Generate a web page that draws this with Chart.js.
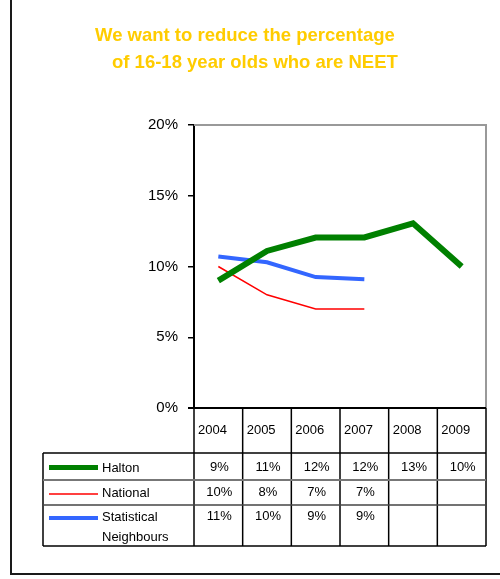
<!DOCTYPE html>
<html>
<head>
<meta charset="utf-8">
<style>
html,body{margin:0;padding:0;background:#fff;}
#wrap{position:relative;width:500px;height:579px;}
canvas{display:block;}
</style>
<script src="https://cdn.jsdelivr.net/npm/chart.js@4"></script>
</head>
<body>
<div id="wrap"><canvas id="c" width="500" height="579"></canvas></div>
<script>
const years = ['2004','2005','2006','2007','2008','2009'];
const halton = [9.0, 11.1, 12.05, 12.05, 13.05, 10.0];
const national = [10.0, 8.0, 7.0, 7.0, null, null];
const statNeighbours = [10.7, 10.3, 9.25, 9.1, null, null];
const seriesNames = ['Halton', 'National', 'Statistical\nNeighbours'];
const yTicks = [0, 5, 10, 15, 20];
const titleLines = ['We want to reduce the percentage', 'of 16-18 year olds who are NEET'];

const FONT = "'Liberation Sans', Arial, sans-serif";
const colors = ['#008000', '#FF0000', '#3366FF'];
const widths = [6, 1.5, 4];

const decor = {
  id: 'decor',
  beforeDraw(chart) {
    const ctx = chart.ctx;
    ctx.save();
    ctx.fillStyle = '#fff';
    ctx.fillRect(0, 0, chart.width, chart.height);
    // outer frame
    ctx.strokeStyle = '#1a1a1a';
    ctx.lineWidth = 2;
    ctx.beginPath();
    ctx.moveTo(11, 0); ctx.lineTo(11, 574); ctx.lineTo(500, 574);
    ctx.stroke();
    ctx.restore();
  },
  afterDraw(chart) {
    const ctx = chart.ctx;
    const a = chart.chartArea;
    const xs = chart.scales.x;
    const n = years.length;
    const colW = (a.right - a.left) / n;
    ctx.save();
    // title
    ctx.fillStyle = '#FFCC00';
    ctx.font = 'bold 18.5px ' + FONT;
    ctx.textBaseline = 'middle';
    ctx.textAlign = 'left';
    ctx.fillText(titleLines[0], 95, 36);
    ctx.fillText(titleLines[1], 112, 63);

    // plot border top & right
    ctx.strokeStyle = '#999';
    ctx.lineWidth = 2;
    ctx.beginPath();
    ctx.moveTo(a.left, a.top); ctx.lineTo(a.right, a.top); ctx.lineTo(a.right, a.bottom);
    ctx.stroke();

    // table geometry
    const headTop = a.bottom, headBot = 453;
    const rowLines = [453, 480, 505, 546];
    const tLeft = 43;
    // vertical lines of category columns
    ctx.strokeStyle = '#000';
    ctx.lineWidth = 1.5;
    for (let i = 0; i <= n; i++) {
      const x = a.left + i * colW;
      ctx.beginPath();
      ctx.moveTo(x, headTop); ctx.lineTo(x, rowLines[3]);
      ctx.stroke();
    }
    // left border of legend column
    ctx.beginPath();
    ctx.moveTo(tLeft, rowLines[0]); ctx.lineTo(tLeft, rowLines[3]);
    ctx.stroke();
    // horizontal row lines
    const rowStyles = [['#000', 1.5], ['#777', 2], ['#444', 1.5], ['#000', 1.5]];
    rowLines.forEach((y, i) => {
      ctx.strokeStyle = rowStyles[i][0];
      ctx.lineWidth = rowStyles[i][1];
      ctx.beginPath();
      ctx.moveTo(tLeft, y); ctx.lineTo(a.right, y);
      ctx.stroke();
    });
    // x axis line
    ctx.strokeStyle = '#000';
    ctx.lineWidth = 2;
    ctx.beginPath();
    ctx.moveTo(a.left - 6, a.bottom); ctx.lineTo(a.right, a.bottom);
    ctx.stroke();

    // header labels
    ctx.fillStyle = '#000';
    ctx.font = '13px ' + FONT;
    ctx.textAlign = 'left';
    years.forEach((yr, i) => {
      const x = xs.getPixelForValue(i) - colW / 2 + 4;
      ctx.fillText(yr, x, 430);
    });
    // rows
    const data = [halton, national, statNeighbours];
    const rowY = [467, 492, 516];
    const legY = [467.5, 494, 518];
    ctx.textAlign = 'center';
    data.forEach((arr, r) => {
      arr.forEach((v, i) => {
        if (v === null || v === undefined) return;
        ctx.fillText(Math.round(v) + '%', xs.getPixelForValue(i) + 1, rowY[r]);
      });
    });
    // legend samples
    data.forEach((arr, r) => {
      ctx.strokeStyle = colors[r];
      ctx.lineWidth = r === 0 ? 5 : widths[r];
      ctx.beginPath();
      ctx.moveTo(49, legY[r]); ctx.lineTo(98, legY[r]);
      ctx.stroke();
    });
    ctx.fillStyle = '#000';
    ctx.textAlign = 'left';
    ctx.fillText(seriesNames[0], 102, 468);
    ctx.fillText(seriesNames[1], 102, 493);
    const parts = seriesNames[2].split('\n');
    ctx.fillText(parts[0], 102, 517);
    ctx.fillText(parts[1], 102, 537);
    ctx.restore();
  }
};

new Chart(document.getElementById('c'), {
  type: 'line',
  data: {
    labels: years,
    datasets: [
      { label: 'Halton', data: halton, borderColor: colors[0], borderWidth: widths[0], pointRadius: 0, tension: 0, fill: false },
      { label: 'National', data: national, borderColor: colors[1], borderWidth: widths[1], pointRadius: 0, tension: 0, fill: false },
      { label: 'Statistical Neighbours', data: statNeighbours, borderColor: colors[2], borderWidth: widths[2], pointRadius: 0, tension: 0, fill: false }
    ]
  },
  options: {
    responsive: false,
    animation: false,
    devicePixelRatio: 1,
    layout: { padding: { left: 0, top: 125, right: 14, bottom: 171 } },
    plugins: { legend: { display: false }, title: { display: false }, tooltip: { enabled: false } },
    scales: {
      x: { display: false, offset: true },
      y: {
        min: 0, max: 20,
        afterBuildTicks(axis) { axis.ticks = yTicks.map(v => ({ value: v })); },
        afterFit(axis) { axis.width = 194; },
        ticks: {
          callback: v => v + '%',
          color: '#000',
          padding: 10,
          font: { family: FONT, size: 15 }
        },
        grid: { drawOnChartArea: false, drawTicks: true, tickLength: 6, color: '#000', lineWidth: 1.5 },
        border: { display: true, color: '#000', width: 2 }
      }
    }
  },
  plugins: [decor]
});
</script>
</body>
</html>
